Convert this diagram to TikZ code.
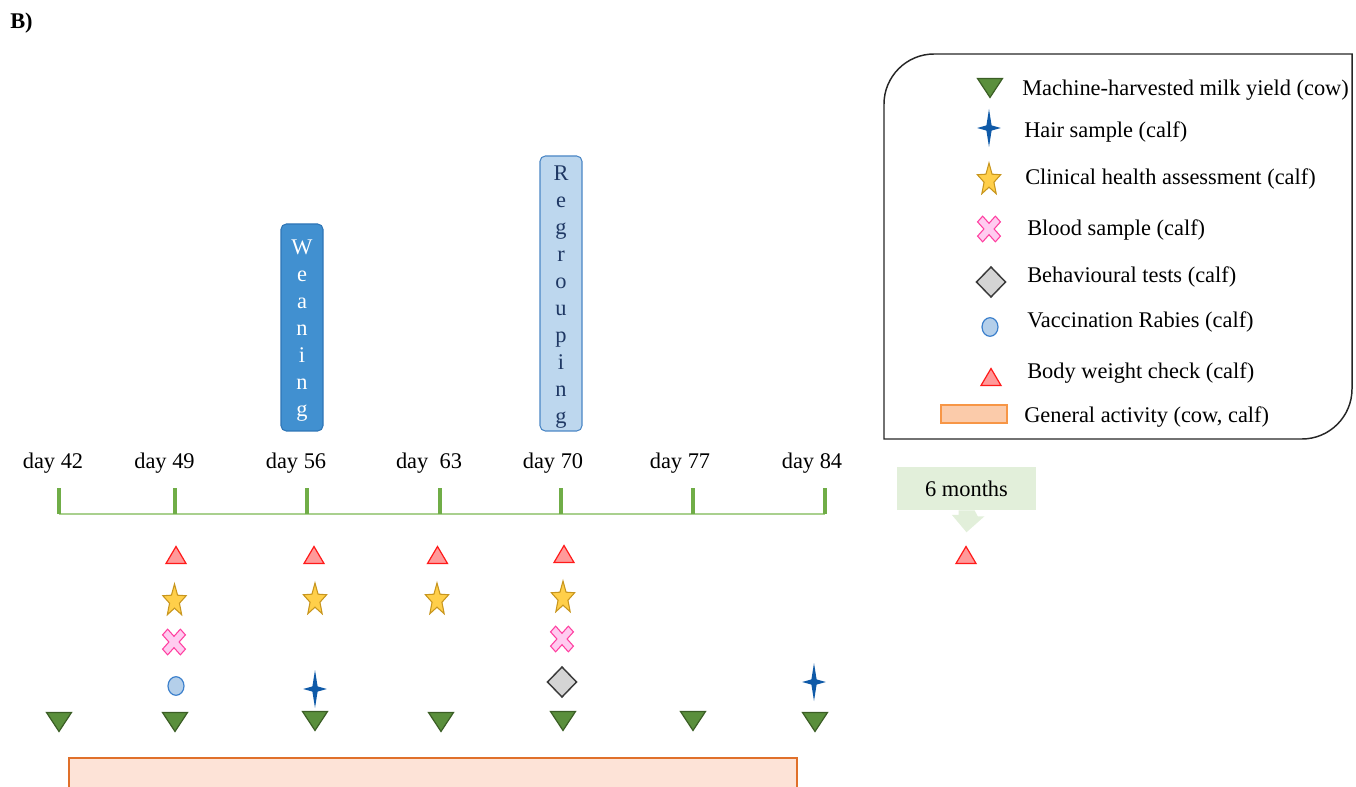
\documentclass[tikz,border=0pt]{standalone}
\usepackage{fontspec}
\setmainfont{Liberation Serif}
\definecolor{tline}{HTML}{A9D08E}
\definecolor{ttick}{HTML}{70AD47}
\definecolor{gfill}{HTML}{5A8F3C}
\definecolor{gdraw}{HTML}{3B5E25}
\definecolor{rfill}{HTML}{FF9A9A}
\definecolor{rdraw}{HTML}{FF1A1A}
\definecolor{sfill}{HTML}{FFCF4A}
\definecolor{sdraw}{HTML}{C8961E}
\definecolor{xfill}{HTML}{FFCCF0}
\definecolor{xdraw}{HTML}{FF3FA0}
\definecolor{dfill}{HTML}{D4D4D4}
\definecolor{ddraw}{HTML}{3A3A3A}
\definecolor{efill}{HTML}{B4CFEA}
\definecolor{edraw}{HTML}{3C80CC}
\definecolor{hfill}{HTML}{0F5AA8}
\definecolor{wfill}{HTML}{4190D0}
\definecolor{wdraw}{HTML}{2E75B6}
\definecolor{rgfill}{HTML}{BDD7EE}
\definecolor{rgdraw}{HTML}{4A86C5}
\definecolor{rgtext}{HTML}{1F3864}
\definecolor{afill}{HTML}{FDE3D7}
\definecolor{adraw}{HTML}{E0702A}
\definecolor{lafill}{HTML}{FBCBAA}
\definecolor{ladraw}{HTML}{F79646}
\definecolor{cfill}{HTML}{E2EFDA}
\newcommand\myfs{\fontsize{16.8}{20}\selectfont}
\tikzset{
  lbl/.style={font=\myfs, inner sep=0pt, anchor=base},
  leg/.style={font=\myfs, inner sep=0pt, anchor=base west},
  redtri/.pic={\draw[fill=rfill, draw=rdraw, line width=0.9pt] (-10,8.5) -- (10,8.5) -- (0,-8.5) -- cycle;},
  greentri/.pic={\draw[fill=gfill, draw=gdraw, line width=0.9pt] (-12.5,-9.5) -- (12.5,-9.5) -- (0,9.5) -- cycle;},
  fivestar/.pic={\draw[fill=sfill, draw=sdraw, line width=0.8pt, xscale=0.72]
      (-90:17) -- (-54:7.2) -- (-18:17) -- (18:7.2) -- (54:17) -- (90:7.2) -- (126:17) -- (162:7.2) -- (198:17) -- (234:7.2) -- cycle;},
  hairstar/.pic={\fill[hfill] (0,-19) -- (2.6,-2.6) -- (11.8,0) -- (2.6,2.6) -- (0,19) -- (-2.6,2.6) -- (-11.8,0) -- (-2.6,-2.6) -- cycle;},
  pinkx/.pic={\draw[fill=xfill, draw=xdraw, line width=0.8pt, yscale=1.12, rotate=45]
      (-3.6,-12.6) -- (3.6,-12.6) -- (3.6,-3.6) -- (12.6,-3.6) -- (12.6,3.6) -- (3.6,3.6) -- (3.6,12.6) -- (-3.6,12.6) -- (-3.6,3.6) -- (-12.6,3.6) -- (-12.6,-3.6) -- (-3.6,-3.6) -- cycle;},
  graydiamond/.pic={\draw[fill=dfill, draw=ddraw, line width=1.1pt] (0,-15) -- (14.5,0) -- (0,15) -- (-14.5,0) -- cycle;},
  blueell/.pic={\draw[fill=efill, draw=edraw, line width=0.9pt] (0,0) ellipse (8 and 9.3);},
  weanbox/.style={draw=wdraw, fill=wfill, rounded corners=4pt, line width=0.8pt, minimum width=31.5pt, minimum height=155.25pt, inner sep=0pt},
  regbox/.style={draw=rgdraw, fill=rgfill, rounded corners=4pt, line width=0.8pt, minimum width=31.5pt, minimum height=206.25pt, inner sep=0pt},
  actbox/.style={draw=adraw, fill=afill, line width=0.9pt, minimum width=546pt, minimum height=48pt, inner sep=0pt},
  legact/.style={draw=ladraw, fill=lafill, line width=0.9pt, minimum width=49.5pt, minimum height=13.5pt, inner sep=0pt},
  callout/.style={fill=cfill, minimum width=104.25pt, minimum height=32.25pt, inner sep=0pt, font=\myfs},
}
\begin{document}
\begin{tikzpicture}[x=0.75pt, y=-0.75pt]
\useasboundingbox (0,0) rectangle (1356,787);
\clip (0,0) rectangle (1356,787);

% panel label
\node[font=\myfs\bfseries, inner sep=0pt, anchor=base west] (B) at (10,29) {B)};

% legend frame
\draw[line width=1.1pt, draw=black!85] (884,439) -- (884,104) .. controls (884,76.5) and (906.5,54) .. (934,54)
  -- (1352,54) -- (1352,389) .. controls (1352,416.5) and (1329.5,439) .. (1302,439) -- cycle;

% legend entries
\pic at (990,88) {greentri};
\node[leg] (l1) at (1022,96) {Machine-harvested milk yield (cow)};
\pic at (989,128) {hairstar};
\node[leg] (l2) at (1024,138) {Hair sample (calf)};
\pic at (989,180) {fivestar};
\node[leg] (l3) at (1025,185) {Clinical health assessment (calf)};
\pic at (989,229) {pinkx};
\node[leg] (l4) at (1027,236) {Blood sample (calf)};
\pic at (991,282) {graydiamond};
\node[leg] (l5) at (1027,283) {Behavioural tests (calf)};
\pic at (990,327) {blueell};
\node[leg] (l6) at (1027,328) {Vaccination Rabies (calf)};
\pic at (991,377) {redtri};
\node[leg] (l7) at (1027,379) {Body weight check (calf)};
\node[legact] (la) at (974,414) {};
\node[leg] (l8) at (1024,423) {General activity (cow, calf)};

% event boxes
\node[weanbox] (wean) at (302,327.5) {};
\foreach \l [count=\i] in {W,e,a,n,i,n,g}
  \node[lbl, text=white] (w\i) at (302,{255+27*(\i-1)}) {\l};
\node[regbox] (regr) at (561,293.5) {};
\foreach \l [count=\i] in {R,e,g,r,o,u,p,i,n,g}
  \node[lbl, text=rgtext] (r\i) at (561,{181+27*(\i-1)}) {\l};

% timeline
\coordinate (t42) at (59,514);
\coordinate (t49) at (175,514);
\coordinate (t56) at (307,514);
\coordinate (t63) at (440,514);
\coordinate (t70) at (561,514);
\coordinate (t77) at (693,514);
\coordinate (t84) at (825,514);
\draw[tline, line width=1.1pt] (t42) -- (t84);
\foreach \t in {t42,t49,t56,t63,t70,t77,t84}
  \draw[ttick, line width=2.3pt] (\t) -- ++(0,-26);

% day labels
\node[lbl] (d42) at (53,469) {day 42};
\node[lbl] (d49) at (164.5,469) {day 49};
\node[lbl] (d56) at (296,469) {day 56};
\node[lbl] (d63) at (429,469) {day\ \ 63};
\node[lbl] (d70) at (553,469) {day 70};
\node[lbl] (d77) at (680,469) {day 77};
\node[lbl] (d84) at (812,469) {day 84};

% 6 months callout
\node[callout] (six) at (966.5,488.5) {6 months};
\fill[cfill] ([xshift=-6pt]six.south) -- ++(0,4.5) -- ++(-6.75,0) -- ([yshift=-16.5pt]six.south)
  -- ([xshift=13.5pt,yshift=-4.5pt]six.south) -- ++(-6.75,0) -- ([xshift=6pt]six.south) -- cycle;

% markers
\foreach \x/\y in {176/555, 314/555, 437.5/555, 564/554, 966/555}
  \pic at (\x,\y) {redtri};
\foreach \x/\y in {174.5/601, 315/600, 437/600, 563/598}
  \pic at (\x,\y) {fivestar};
\foreach \x/\y in {174/642, 562/639}
  \pic at (\x,\y) {pinkx};
\pic at (176,686) {blueell};
\foreach \x/\y in {315/689, 814/682}
  \pic at (\x,\y) {hairstar};
\pic at (562,682) {graydiamond};
\foreach \x/\y in {59/722, 175/722, 315/721, 441/722, 563/721, 693/721, 815/722}
  \pic at (\x,\y) {greentri};

% general activity bar
\node[actbox] (act) at (433,790) {};
\end{tikzpicture}
\end{document}
